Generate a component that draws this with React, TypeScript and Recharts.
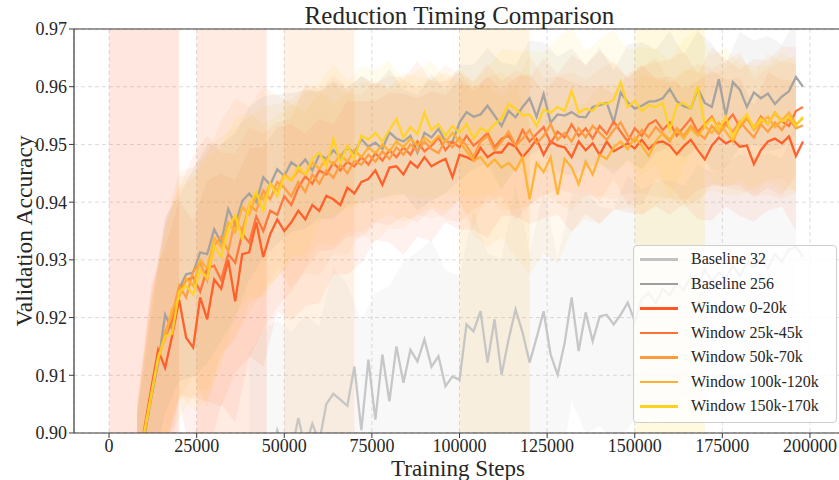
import React from 'react';
import {
  ComposedChart,
  Line,
  Area,
  XAxis,
  YAxis,
  CartesianGrid,
  ReferenceArea,
  ReferenceLine,
  Legend,
} from 'recharts';

const FONT = '"Liberation Serif", "Times New Roman", serif';
const INK = '#262626';
const SPINE = '#3a3a3a';

const X_TICKS = [0, 25000, 50000, 75000, 100000, 125000, 150000, 175000, 200000];
const Y_TICKS = [0.9, 0.91, 0.92, 0.93, 0.94, 0.95, 0.96, 0.97];

// Evaluation cadence: runs logged every 2k steps, spread logged every 4k steps.
const RUN_START = 8000;
const RUN_STEP = 2000;
const STD_STEP = 4000;
const B32_START = 40000;

// ---- Baseline 32 (from 40k) ----
const baseline32 = [
  0.894, 0.892, 0.896, 0.895, 0.9005, 0.897, 0.8965, 0.9026, 0.8975, 0.9016,
  0.8985, 0.905, 0.9068, 0.9058, 0.9047, 0.9115, 0.9005, 0.9127, 0.9023, 0.9136,
  0.9055, 0.915, 0.9087, 0.9144, 0.9124, 0.9162, 0.9115, 0.9133, 0.9081, 0.9098,
  0.9092, 0.9188, 0.9176, 0.9211, 0.9122, 0.9197, 0.9101, 0.9162, 0.9214, 0.9174,
  0.9122, 0.9165, 0.9211, 0.9136, 0.9101, 0.9156, 0.9235, 0.9142, 0.9209, 0.9159,
  0.9202, 0.9205, 0.9188, 0.9205, 0.9226, 0.9194, 0.9232, 0.9243, 0.9225, 0.925,
  0.9238, 0.926, 0.9248, 0.9272, 0.9255, 0.9283, 0.9262, 0.9278, 0.9268, 0.929,
  0.9272, 0.9295, 0.9288, 0.9302, 0.9285, 0.931, 0.9296, 0.9318, 0.9323, 0.9305,
];
const baseline32Std = [
  0.020, 0.022, 0.019, 0.021, 0.023, 0.020, 0.022, 0.021, 0.019, 0.022,
  0.020, 0.021, 0.019, 0.022, 0.020, 0.018, 0.021, 0.019, 0.020, 0.022,
  0.019, 0.021, 0.020, 0.018, 0.021, 0.019, 0.020, 0.022, 0.019, 0.021,
  0.020, 0.018, 0.021, 0.019, 0.020, 0.021, 0.019, 0.020, 0.018, 0.021,
];

// ---- Baseline 256 (from 8k) ----
const baseline256 = [
  0.893, 0.899, 0.906, 0.912, 0.9205, 0.918, 0.925, 0.9275, 0.9278, 0.9313,
  0.931, 0.9353, 0.933, 0.9388, 0.936, 0.9402, 0.9415, 0.94, 0.9443, 0.943,
  0.9457, 0.9445, 0.9469, 0.946, 0.9474, 0.9455, 0.9482, 0.9475, 0.949, 0.9478,
  0.9495, 0.9485, 0.9509, 0.9496, 0.9503, 0.9492, 0.9521, 0.951, 0.9505, 0.9515,
  0.9486, 0.952, 0.9512, 0.9527, 0.9505, 0.9504, 0.9538, 0.9556, 0.9548, 0.9552,
  0.9567, 0.955, 0.9532, 0.9558, 0.9547, 0.9565, 0.958, 0.9548, 0.9587, 0.9538,
  0.9552, 0.955, 0.9556, 0.9548, 0.9547, 0.9565, 0.9568, 0.9572, 0.9538, 0.959,
  0.9573, 0.9562, 0.9567, 0.9574, 0.9575, 0.958, 0.9596, 0.9575, 0.9566, 0.9562,
  0.9596, 0.9572, 0.9565, 0.9613, 0.955, 0.9608, 0.9595, 0.9565, 0.959, 0.958,
  0.9588, 0.957, 0.9583, 0.9592, 0.9617, 0.96,
];
const baseline256Std = [
  0.010, 0.014, 0.017, 0.016, 0.018, 0.019, 0.017, 0.016, 0.015, 0.014, 0.013, 0.012,
  0.012, 0.011, 0.012, 0.010, 0.011, 0.010, 0.011, 0.009, 0.010, 0.011, 0.009, 0.010,
  0.009, 0.010, 0.011, 0.009, 0.010, 0.009, 0.010, 0.011, 0.009, 0.010, 0.009, 0.010,
  0.011, 0.009, 0.010, 0.009, 0.010, 0.011, 0.009, 0.010, 0.009, 0.010, 0.009, 0.010,
];

// ---- Window 0-20k ----
const window0to20k = [
  0.893, 0.9005, 0.9075, 0.9144, 0.9113, 0.9168, 0.9231, 0.9165, 0.9148, 0.9235,
  0.9197, 0.9266, 0.925, 0.93, 0.9228, 0.931, 0.9313, 0.9365, 0.9305, 0.9345,
  0.937, 0.935, 0.9365, 0.9385, 0.937, 0.9395, 0.9385, 0.9411, 0.9405, 0.9395,
  0.9425, 0.9415, 0.9435, 0.944, 0.9455, 0.943, 0.946, 0.9462, 0.9448, 0.947,
  0.946, 0.9478, 0.9462, 0.9469, 0.9475, 0.9443, 0.9482, 0.9478, 0.9472, 0.9494,
  0.9478, 0.9486, 0.9486, 0.9502, 0.9496, 0.9478, 0.9492, 0.9509, 0.9482, 0.9505,
  0.9498, 0.9495, 0.9478, 0.9505, 0.949, 0.9502, 0.9482, 0.9505, 0.9488, 0.9495,
  0.9502, 0.9493, 0.9508, 0.9492, 0.9503, 0.9505, 0.9498, 0.9483, 0.9497, 0.9508,
  0.949, 0.9474, 0.9498, 0.9512, 0.9502, 0.9508, 0.9496, 0.9498, 0.9466, 0.949,
  0.9505, 0.951, 0.9502, 0.9514, 0.948, 0.9505,
];
const window0to20kStd = [
  0.012, 0.018, 0.021, 0.017, 0.022, 0.024, 0.020, 0.021, 0.018, 0.019, 0.016, 0.017,
  0.015, 0.016, 0.013, 0.015, 0.014, 0.012, 0.013, 0.014, 0.012, 0.013, 0.011, 0.013,
  0.012, 0.014, 0.011, 0.012, 0.013, 0.011, 0.012, 0.013, 0.011, 0.012, 0.010, 0.012,
  0.013, 0.011, 0.012, 0.010, 0.012, 0.013, 0.011, 0.012, 0.010, 0.012, 0.011, 0.013,
];

// ---- Window 25k-45k ----
const window25to45k = [
  0.893, 0.8995, 0.907, 0.9135, 0.9165, 0.9195, 0.9245, 0.9265, 0.927, 0.9245,
  0.9285, 0.929, 0.9265, 0.931, 0.9295, 0.9345, 0.933, 0.9375, 0.935, 0.9385,
  0.9378, 0.941, 0.9395, 0.9425, 0.9445, 0.9432, 0.9455, 0.9448, 0.9468, 0.9455,
  0.947, 0.9462, 0.9478, 0.9465, 0.9485, 0.9472, 0.949, 0.9478, 0.9495, 0.9482,
  0.9505, 0.9488, 0.9498, 0.9512, 0.949, 0.9505, 0.9495, 0.9515, 0.9498, 0.9508,
  0.952, 0.9495, 0.951, 0.9515, 0.9498, 0.9525, 0.9505, 0.9518, 0.953, 0.9502,
  0.9522, 0.9512, 0.9535, 0.9515, 0.9528, 0.951, 0.9532, 0.9518, 0.954, 0.9522,
  0.9505, 0.9528, 0.9515, 0.9535, 0.9542, 0.9525, 0.9538, 0.9515, 0.953, 0.9545,
  0.9522, 0.9535, 0.9548, 0.9525, 0.9538, 0.9552, 0.953, 0.9545, 0.9528, 0.9548,
  0.9535, 0.9555, 0.954, 0.9532, 0.9558, 0.9565,
];
const window25to45kStd = [
  0.011, 0.017, 0.020, 0.018, 0.021, 0.023, 0.022, 0.019, 0.020, 0.017, 0.016, 0.015,
  0.016, 0.014, 0.015, 0.013, 0.014, 0.012, 0.013, 0.012, 0.014, 0.011, 0.012, 0.013,
  0.011, 0.012, 0.010, 0.013, 0.011, 0.012, 0.010, 0.012, 0.011, 0.013, 0.010, 0.011,
  0.012, 0.010, 0.011, 0.013, 0.010, 0.012, 0.011, 0.010, 0.012, 0.011, 0.013, 0.011,
];

// ---- Window 50k-70k ----
const window50to70k = [
  0.8935, 0.9, 0.9065, 0.9125, 0.9175, 0.9205, 0.9255, 0.9235, 0.928, 0.9295,
  0.9265, 0.9325, 0.934, 0.9315, 0.937, 0.935, 0.9395, 0.9385, 0.942, 0.9405,
  0.9435, 0.9425, 0.941, 0.9435, 0.9418, 0.9448, 0.9432, 0.9455, 0.9442, 0.9465,
  0.945, 0.9472, 0.9465, 0.9482, 0.947, 0.9488, 0.9475, 0.9495, 0.9482, 0.95,
  0.9488, 0.9505, 0.9492, 0.9485, 0.9508, 0.9495, 0.9512, 0.9498, 0.9478, 0.9505,
  0.9515, 0.949, 0.9505, 0.9522, 0.9498, 0.951, 0.9525, 0.9502, 0.9515, 0.9535,
  0.9508, 0.952, 0.9505, 0.9528, 0.9512, 0.9532, 0.952, 0.9508, 0.9525, 0.9538,
  0.9515, 0.9505, 0.9525, 0.9512, 0.953, 0.9518, 0.9505, 0.9528, 0.9515, 0.9532,
  0.952, 0.951, 0.9532, 0.9518, 0.9535, 0.9522, 0.954, 0.9525, 0.9512, 0.9535,
  0.9522, 0.9538, 0.9525, 0.9545, 0.9528, 0.9533,
];
const window50to70kStd = [
  0.010, 0.016, 0.019, 0.020, 0.018, 0.022, 0.020, 0.021, 0.017, 0.018, 0.015, 0.016,
  0.014, 0.016, 0.013, 0.014, 0.012, 0.014, 0.012, 0.013, 0.011, 0.012, 0.013, 0.011,
  0.012, 0.010, 0.012, 0.011, 0.013, 0.010, 0.011, 0.012, 0.010, 0.011, 0.012, 0.010,
  0.011, 0.012, 0.010, 0.011, 0.012, 0.010, 0.011, 0.012, 0.010, 0.011, 0.012, 0.011,
];

// ---- Window 100k-120k ----
const window100to120k = [
  0.8925, 0.8995, 0.906, 0.913, 0.9165, 0.9215, 0.9235, 0.9268, 0.9255, 0.93,
  0.9285, 0.9338, 0.9322, 0.9365, 0.9348, 0.9392, 0.9378, 0.9412, 0.9405, 0.9432,
  0.942, 0.9448, 0.9438, 0.9455, 0.9448, 0.9468, 0.9458, 0.9475, 0.9465, 0.9482,
  0.947, 0.949, 0.9478, 0.9495, 0.9485, 0.95, 0.9488, 0.9505, 0.9495, 0.951,
  0.9498, 0.9512, 0.9502, 0.9515, 0.9505, 0.952, 0.9505, 0.9488, 0.9472, 0.9478,
  0.9462, 0.9474, 0.946, 0.9468, 0.9455, 0.9478, 0.9405, 0.9468, 0.9452, 0.9478,
  0.9413, 0.9475, 0.946, 0.9431, 0.947, 0.9448, 0.9482, 0.9475, 0.9495, 0.9505,
  0.9492, 0.9512, 0.9498, 0.948, 0.9505, 0.952, 0.9508, 0.9525, 0.951, 0.9528,
  0.9515, 0.9532, 0.952, 0.9538, 0.9522, 0.9505, 0.9532, 0.9545, 0.9525, 0.9538,
  0.9548, 0.953, 0.9542, 0.9555, 0.9535, 0.9545,
];
const window100to120kStd = [
  0.011, 0.017, 0.018, 0.021, 0.019, 0.021, 0.019, 0.018, 0.017, 0.016, 0.015, 0.014,
  0.015, 0.013, 0.014, 0.012, 0.013, 0.012, 0.011, 0.013, 0.012, 0.011, 0.012, 0.010,
  0.013, 0.014, 0.012, 0.015, 0.013, 0.014, 0.012, 0.011, 0.010, 0.012, 0.011, 0.010,
  0.012, 0.011, 0.010, 0.012, 0.011, 0.010, 0.011, 0.012, 0.010, 0.011, 0.010, 0.012,
];

// ---- Window 150k-170k ----
const window150to170k = [
  0.8935, 0.9, 0.9065, 0.913, 0.9168, 0.9172, 0.9245, 0.9255, 0.924, 0.9282,
  0.9268, 0.9325, 0.9305, 0.9352, 0.9378, 0.9335, 0.9395, 0.9418, 0.9385, 0.9432,
  0.941, 0.9445, 0.9438, 0.9462, 0.9448, 0.9475, 0.9486, 0.9462, 0.951, 0.9468,
  0.9498, 0.9475, 0.9515, 0.9508, 0.952, 0.9505, 0.9525, 0.9544, 0.9512, 0.953,
  0.9518, 0.9555, 0.9525, 0.9535, 0.9515, 0.9532, 0.952, 0.9535, 0.951, 0.9528,
  0.9522, 0.9535, 0.9545, 0.957, 0.9562, 0.955, 0.9552, 0.9532, 0.956, 0.9555,
  0.9565, 0.9558, 0.9593, 0.9555, 0.9562, 0.9558, 0.9572, 0.957, 0.9578, 0.9608,
  0.9565, 0.9575, 0.9558, 0.9568, 0.9565, 0.9572, 0.9525, 0.9568, 0.9572, 0.9562,
  0.96, 0.9532, 0.9545, 0.9525, 0.9548, 0.9512, 0.9538, 0.9552, 0.9528, 0.9545,
  0.9535, 0.9555, 0.954, 0.9548, 0.9532, 0.9548,
];
const window150to170kStd = [
  0.012, 0.016, 0.019, 0.018, 0.020, 0.021, 0.019, 0.017, 0.016, 0.015, 0.014, 0.013,
  0.014, 0.012, 0.013, 0.011, 0.012, 0.011, 0.012, 0.010, 0.011, 0.012, 0.010, 0.011,
  0.010, 0.011, 0.012, 0.010, 0.011, 0.010, 0.012, 0.011, 0.010, 0.011, 0.012, 0.010,
  0.011, 0.010, 0.012, 0.011, 0.010, 0.011, 0.012, 0.010, 0.011, 0.010, 0.012, 0.011,
];

type Run = {
  name: string;
  color: string;
  mean: number[];
  std: number[];
  start: number;
  bandOpacity: number;
  window?: [number, number];
};

const RUNS: Run[] = [
  { name: 'Baseline 32', color: '#c2c2c2', mean: baseline32, std: baseline32Std, start: B32_START, bandOpacity: 0.12 },
  { name: 'Baseline 256', color: '#9e9e9e', mean: baseline256, std: baseline256Std, start: RUN_START, bandOpacity: 0.1 },
  { name: 'Window 0-20k', color: '#ff5722', mean: window0to20k, std: window0to20kStd, start: RUN_START, bandOpacity: 0.08, window: [0, 20000] },
  { name: 'Window 25k-45k', color: '#ff7033', mean: window25to45k, std: window25to45kStd, start: RUN_START, bandOpacity: 0.08, window: [25000, 45000] },
  { name: 'Window 50k-70k', color: '#ff9a3c', mean: window50to70k, std: window50to70kStd, start: RUN_START, bandOpacity: 0.08, window: [50000, 70000] },
  { name: 'Window 100k-120k', color: '#ffb02e', mean: window100to120k, std: window100to120kStd, start: RUN_START, bandOpacity: 0.08, window: [100000, 120000] },
  { name: 'Window 150k-170k', color: '#ffd21f', mean: window150to170k, std: window150to170kStd, start: RUN_START, bandOpacity: 0.08, window: [150000, 170000] },
];

const lineRows = (r: Run) => r.mean.map((v, i) => ({ step: r.start + i * RUN_STEP, acc: v }));

const bandRows = (r: Run) =>
  r.std.flatMap((sd, i) => {
    const m = r.mean[i * 2];
    return m === undefined ? [] : [{ step: r.start + i * STD_STEP, band: [m - sd, m + sd] }];
  });

// Plot box geometry (pixels inside the chart svg)
const CHART_W = 860;
const CHART_H = 480;
const PLOT_LEFT = 74;
const PLOT_TOP = 29;
const PLOT_RIGHT = 845;
const PLOT_BOTTOM = 433;

const XTitle = () => (
  <text
    x={458}
    y={476}
    textAnchor="middle"
    fontFamily={FONT}
    fontSize={23}
    fill={INK}
  >
    Training Steps
  </text>
);

const YTitle = () => {
  const cx = 32;
  const cy = (PLOT_TOP + PLOT_BOTTOM) / 2;
  return (
    <text
      x={cx}
      y={cy}
      transform={`rotate(-90 ${cx} ${cy})`}
      textAnchor="middle"
      fontFamily={FONT}
      fontSize={23.5}
      fill={INK}
    >
      Validation Accuracy
    </text>
  );
};

const LegendBox = () => (
  <div
    style={{
      width: 204,
      height: 178,
      boxSizing: 'border-box',
      background: 'rgba(255,255,255,0.82)',
      border: '1px solid #cfcfcf',
      borderRadius: 4,
      paddingTop: 1,
      fontFamily: FONT,
      fontSize: 16,
      color: INK,
    }}
  >
    {RUNS.map((r) => (
      <div key={r.name} style={{ position: 'relative', height: 24.55 }}>
        <span
          style={{
            position: 'absolute',
            left: 6,
            top: 11,
            width: 38,
            height: 2.6,
            background: r.color,
          }}
        />
        <span
          style={{
            position: 'absolute',
            left: 57,
            top: 0,
            lineHeight: '24.55px',
            whiteSpace: 'nowrap',
          }}
        >
          {r.name}
        </span>
      </div>
    ))}
  </div>
);

export default function App() {
  const tickStyle = { fontSize: 18, fill: INK, fontFamily: FONT };
  return (
    <div
      style={{
        position: 'absolute',
        left: 0,
        top: 0,
        width: 839,
        height: 480,
        overflow: 'hidden',
        background: '#ffffff',
      }}
    >
      <div
        style={{
          position: 'absolute',
          left: 0,
          top: 3,
          width: PLOT_LEFT + PLOT_RIGHT,
          textAlign: 'center',
          fontFamily: FONT,
          fontSize: 25,
          lineHeight: '25px',
          color: INK,
          zIndex: 2,
        }}
      >
        Reduction Timing Comparison
      </div>
      <ComposedChart
        width={CHART_W}
        height={CHART_H}
        margin={{ top: PLOT_TOP, right: CHART_W - PLOT_RIGHT, bottom: 0, left: 0 }}
      >
        <CartesianGrid stroke="#d2d2d2" strokeDasharray="4 3" strokeWidth={0.8} />
        {RUNS.filter((r) => r.window).map((r) => (
          <ReferenceArea
            key={`span-${r.name}`}
            x1={r.window![0]}
            x2={r.window![1]}
            y1={0.9}
            y2={0.97}
            fill={r.color}
            fillOpacity={0.14}
            stroke="none"
          />
        ))}
        {RUNS.map((r) => (
          <Area
            key={`band-${r.name}`}
            data={bandRows(r)}
            dataKey="band"
            type="linear"
            stroke="none"
            fill={r.color}
            fillOpacity={r.bandOpacity}
            dot={false}
            activeDot={false}
            legendType="none"
            isAnimationActive={false}
          />
        ))}
        {RUNS.map((r) => (
          <Line
            key={`line-${r.name}`}
            data={lineRows(r)}
            dataKey="acc"
            name={r.name}
            type="linear"
            stroke={r.color}
            strokeWidth={2.3}
            strokeOpacity={0.92}
            dot={false}
            activeDot={false}
            isAnimationActive={false}
          />
        ))}
        <XAxis
          type="number"
          dataKey="step"
          domain={[-10000, 210000]}
          ticks={X_TICKS}
          interval={0}
          allowDataOverflow
          height={CHART_H - PLOT_BOTTOM}
          tickSize={5}
          tickMargin={1}
          tick={tickStyle}
          axisLine={{ stroke: SPINE, strokeWidth: 1.2 }}
          tickLine={{ stroke: SPINE }}
          label={<XTitle />}
        />
        <YAxis
          type="number"
          domain={[0.9, 0.97]}
          ticks={Y_TICKS}
          interval={0}
          allowDataOverflow
          width={PLOT_LEFT}
          tickSize={5}
          tickMargin={2}
          tick={tickStyle}
          tickFormatter={(v: number) => v.toFixed(2)}
          axisLine={{ stroke: SPINE, strokeWidth: 1.2 }}
          tickLine={{ stroke: SPINE }}
          label={<YTitle />}
        />
        <ReferenceLine y={0.97} stroke={SPINE} strokeWidth={1.2} />
        <Legend
          layout="vertical"
          align="center"
          verticalAlign="middle"
          content={() => <LegendBox />}
          wrapperStyle={{ left: 633, top: 245, width: 204, height: 178 }}
        />
      </ComposedChart>
    </div>
  );
}
